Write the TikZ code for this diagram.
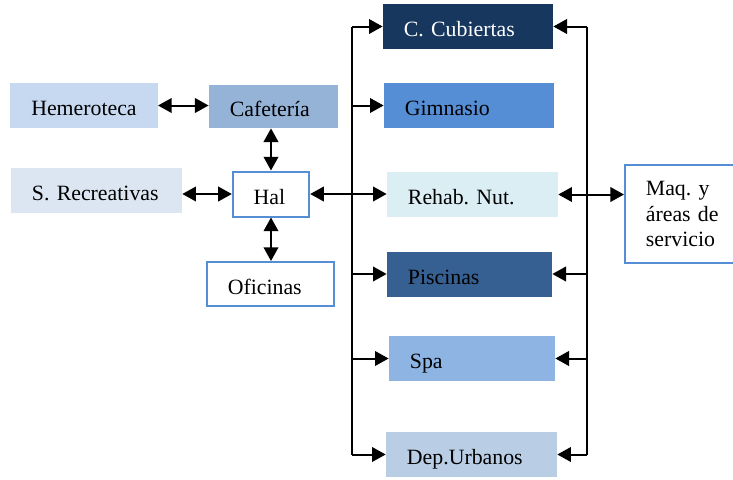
\documentclass[tikz,border=0pt]{standalone}
\usepackage{fontspec}
\setmainfont{Liberation Serif}
\usetikzlibrary{arrows.meta}
\frenchspacing

\definecolor{hemcolor}{HTML}{C6D9F1}
\definecolor{cafcolor}{HTML}{95B3D7}
\definecolor{reccolor}{HTML}{DCE6F2}
\definecolor{cubcolor}{HTML}{17375E}
\definecolor{gimcolor}{HTML}{558ED5}
\definecolor{rehcolor}{HTML}{DBEEF4}
\definecolor{piscolor}{HTML}{376092}
\definecolor{spacolor}{HTML}{8EB4E3}
\definecolor{depcolor}{HTML}{B9CDE5}
\definecolor{bordecolor}{HTML}{558ED5}

\tikzset{
  caja/.style={rectangle, minimum height=24.75pt, inner xsep=11.5pt, inner ysep=0pt,
    text height=11pt, text depth=0pt, align=left, font=\fontsize{12}{14}\selectfont},
  marco/.style={caja, draw=bordecolor, line width=1.1pt, fill=white},
  flecha/.style={-{Triangle[length=7.5pt,width=8pt]}, line width=1.1pt},
  doble/.style={{Triangle[length=7.5pt,width=8pt]}-{Triangle[length=7.5pt,width=8pt]}, line width=1.1pt},
}

\begin{document}
\begin{tikzpicture}[x=0.55pt,y=-0.55pt]
        \clip (0,0) rectangle (733,479);

        % zona de acceso
        \node[caja, fill=hemcolor, text width=58pt] (hem) at (84,105.5) {Hemeroteca};
        \node[caja, fill=cafcolor, text width=48pt, minimum height=23.65pt] (caf) at (273.5,106.5) {Cafetería};
        \node[caja, fill=reccolor, text width=71pt] (rec) at (96.5,190.5) {S. Recreativas};
        \node[marco, text width=19pt] (hal) at (271,194) {Hal};
        \node[marco, text width=47pt, minimum height=24.2pt] (ofi) at (270.5,284) {Oficinas};

        % zona deportiva
        \node[caja, fill=cubcolor, text=white, text width=70.5pt] (cub) at (468,26.5) {C. Cubiertas};
        \node[caja, fill=gimcolor, text width=70.5pt] (gim) at (469,105.5) {Gimnasio};
        \node[caja, fill=rehcolor, text width=71pt] (reh) at (472.5,194.5) {Rehab. Nut.};
        \node[caja, fill=piscolor, text width=67.75pt] (pis) at (469.5,274) {Piscinas};
        \node[caja, fill=spacolor, text width=68.3pt] (spa) at (472,358.5) {Spa};
        \node[caja, fill=depcolor, text width=71pt] (dep) at (471.5,454.5) {Dep.Urbanos};

        \node[marco, text width=43pt, text height=, text depth=, minimum height=53.9pt] (maq) at (685,214) {Maq. y\\áreas de\\servicio};

        \coordinate (busI) at (352,0);
        \coordinate (busD) at (587,0);

        \draw[doble] (hem.east) -- (hem.east -| caf.west);
        \draw[doble] (hal.north) -- (hal.north |- caf.south);
        \draw[doble] (hal.west -| rec.east) -- (hal.west);
        \draw[doble] (hal.south) -- (hal.south |- ofi.north);

        \draw[line width=1.1pt] (busI |- cub.west) -- (busI |- dep.west);
        \foreach \n in {cub,gim,pis,spa,dep}
            \draw[flecha] (busI |- \n.west) -- (\n.west);
        \draw[doble] (hal.east) -- (hal.east -| reh.west);

        \draw[line width=1.1pt] (busD |- cub.east) -- (busD |- dep.east);
        \foreach \n in {cub,pis,spa,dep}
            \draw[flecha] (busD |- \n.east) -- (\n.east);
        \draw[doble] (reh.east) -- (reh.east -| maq.west);
\end{tikzpicture}
\end{document}
